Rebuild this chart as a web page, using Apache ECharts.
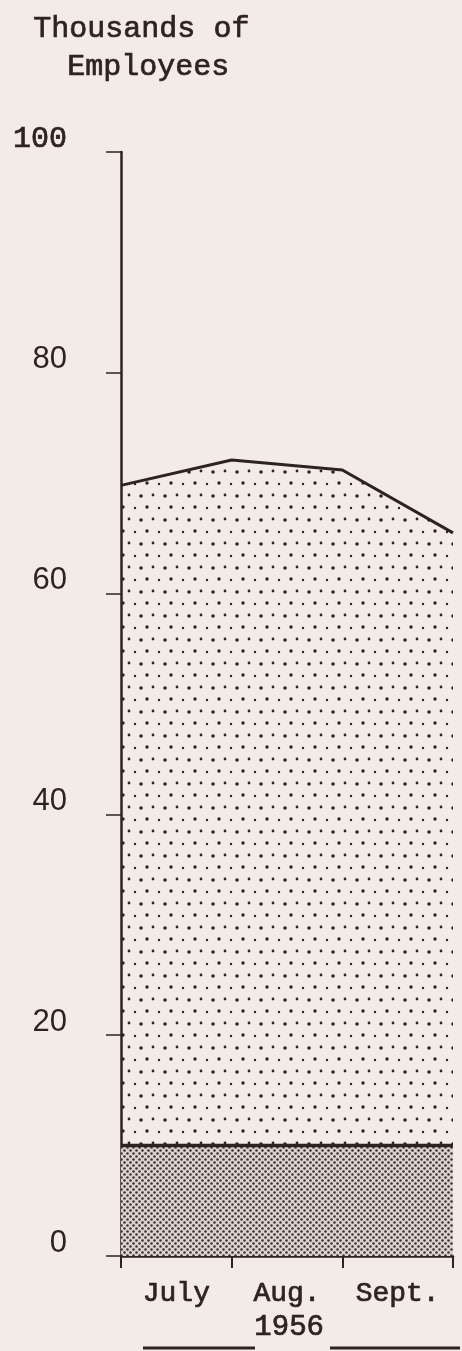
<!DOCTYPE html>
<html>
<head>
<meta charset="utf-8">
<title>Thousands of Employees, July - Sept. 1956</title>
<script src="https://cdn.jsdelivr.net/npm/echarts@6/dist/echarts.min.js"></script>
<style>
  html, body { margin: 0; padding: 0; background: #f2ebe6; }
  #chart { width: 462px; height: 1351px; }
</style>
</head>
<body>
<div id="chart"></div>
<script>
// months under the axis, one per interval
var months = ["July", "Aug.", "Sept."];
// the line is read at the month boundaries (start of July .. end of Sept.)
var boundaryPos = [0, 1, 2, 3];
var totalEmployees = [69.8, 72.1, 71.2, 65.5];
var baseEmployees = [10, 10, 10, 10];
var yearLabel = "1956";

var ink = "#2f2321";
var paper = "#f2ebe6";
var typewriter = "Liberation Mono";

// dotted fills, drawn on small canvases and repeated
function makePattern(size, dots, bg, color) {
  var c = document.createElement("canvas");
  c.width = size;
  c.height = size;
  var ctx = c.getContext("2d");
  if (bg) {
    ctx.fillStyle = bg;
    ctx.fillRect(0, 0, size, size);
  }
  ctx.fillStyle = color;
  dots.forEach(function (d) {
    ctx.beginPath();
    ctx.arc(d[0], d[1], d[2], 0, Math.PI * 2);
    ctx.fill();
  });
  return c;
}

var sparseDots = makePattern(24, [[3, 3, 1.7], [15, 4, 1.2], [9, 15, 1.4], [21, 16, 1.8]], null, ink);
var denseDots = makePattern(6, [[1.5, 1.5, 1.3], [4.5, 4.5, 1.3]], "#ddd3cf", "#3e3433");

function pairs(xs, ys) {
  return xs.map(function (x, i) { return [x, ys[i]]; });
}

var chart = echarts.init(document.getElementById("chart"));

var option = {
  backgroundColor: paper,
  animation: false,
  grid: { left: 121, right: 9, top: 152, bottom: 95 },
  xAxis: [
    {
      type: "category",
      data: months,
      boundaryGap: true,
      axisLine: { lineStyle: { color: ink, width: 2.5 } },
      axisTick: { show: true, length: 12, lineStyle: { color: ink, width: 2 } },
      axisLabel: {
        color: ink, fontFamily: typewriter, fontSize: 28, margin: 24,
        textBorderColor: ink, textBorderWidth: 0.7
      }
    },
    {
      type: "value",
      min: 0,
      max: 3,
      show: false
    }
  ],
  yAxis: {
    type: "value",
    min: 0,
    max: 100,
    interval: 20,
    splitLine: { show: false },
    axisLine: { show: true, lineStyle: { color: ink, width: 2.5 } },
    axisTick: { show: true, length: 15, lineStyle: { color: ink, width: 1.5 } },
    axisLabel: {
      margin: 54,
      verticalAlign: "bottom",
      formatter: function (v) {
        return v === 100 ? "{m|" + v + "}" : "{s|" + v + "}";
      },
      rich: {
        m: {
          color: ink, fontFamily: typewriter, fontSize: 30, lineHeight: 26,
          textBorderColor: ink, textBorderWidth: 0.7
        },
        s: { color: ink, fontFamily: "Liberation Sans", fontSize: 31, lineHeight: 26 }
      }
    }
  },
  graphic: [
    {
      type: "text", left: 33, top: 14,
      style: { text: "Thousands of", font: "30px " + typewriter, fill: ink, stroke: ink, lineWidth: 0.7 }
    },
    {
      type: "text", left: 67, top: 52,
      style: { text: "Employees", font: "30px " + typewriter, fill: ink, stroke: ink, lineWidth: 0.7 }
    },
    {
      type: "text", left: 254, top: 1312,
      style: { text: yearLabel, font: "29px " + typewriter, fill: ink, stroke: ink, lineWidth: 0.7 }
    },
    {
      type: "line", shape: { x1: 143, y1: 1348, x2: 255, y2: 1348 },
      style: { stroke: ink, lineWidth: 3 }
    },
    {
      type: "line", shape: { x1: 330, y1: 1348, x2: 460, y2: 1348 },
      style: { stroke: ink, lineWidth: 3 }
    }
  ],
  series: [
    {
      name: "Total",
      type: "line",
      xAxisIndex: 1,
      data: pairs(boundaryPos, totalEmployees),
      symbol: "none",
      lineStyle: { color: ink, width: 3 },
      areaStyle: { color: { image: sparseDots, repeat: "repeat" }, opacity: 1 }
    },
    {
      name: "Base",
      type: "line",
      xAxisIndex: 1,
      data: pairs(boundaryPos, baseEmployees),
      symbol: "none",
      lineStyle: { color: ink, width: 3.5 },
      areaStyle: { color: { image: denseDots, repeat: "repeat" }, opacity: 1 }
    }
  ]
};

chart.setOption(option);
</script>
</body>
</html>
